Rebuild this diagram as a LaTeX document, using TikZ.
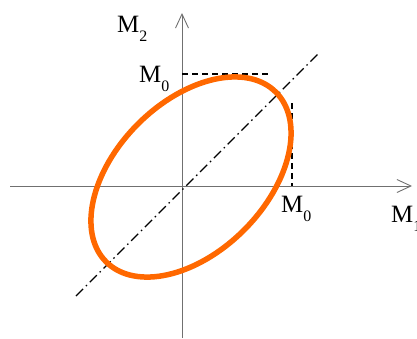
\documentclass[tikz,border=0pt]{standalone}
\usepackage{fontspec}
\setmainfont{Liberation Serif}
\usetikzlibrary{arrows.meta}
\definecolor{ellcol}{RGB}{255,104,0}
\definecolor{axiscol}{RGB}{112,112,112}
\newcommand\lowsub[1]{\raisebox{-9.5bp}{\fontsize{16}{16}\selectfont #1}}
\begin{document}
\begin{tikzpicture}[x=1bp,y=-1bp,
  axisline/.style={draw=axiscol,line width=0.9bp,-{Straight Barb[length=14bp,width=13bp,line width=0.9bp]}},
  guide/.style={draw=black,line width=1.4bp,dash pattern=on 6bp off 4bp},
  diag/.style={draw=black,line width=1.4bp,dash pattern=on 10bp off 4bp on 1.5bp off 4bp},
  lab/.style={font=\fontsize{25}{28}\selectfont,inner sep=0pt,anchor=base west}]
\useasboundingbox (0,0) rectangle (417,339);
\coordinate (O) at (182,186);
\coordinate (xs) at (10,186);
\coordinate (xe) at (412,186);
\coordinate (ys) at (182,338);
\coordinate (ye) at (182,13);
\draw[axisline] (xs) -- (xe);
\draw[axisline] (ys) -- (ye);
\coordinate (d1) at (76,296);
\coordinate (d2) at (318,54);
\draw[diag] (d1) -- (d2);
\coordinate (h1) at (182,74);
\coordinate (h2) at (271,74);
\coordinate (v1) at (292,103);
\coordinate (v2) at (292,186);
\draw[guide] (h1) -- (h2);
\draw[guide] (v1) -- (v2);
\coordinate (C) at (191,177);
\draw[draw=ellcol,line width=5.5bp,rotate around={45:(C)}] (C) ellipse [x radius=120bp,y radius=75bp];
\node[lab] (m2) at (117,32) {M\lowsub{2}};
\node[lab] (m0a) at (139,82) {M\lowsub{0}};
\node[lab] (m0b) at (281,212) {M\lowsub{0}};
\node[lab] (m1) at (391,222) {M\lowsub{1}};
\end{tikzpicture}
\end{document}
